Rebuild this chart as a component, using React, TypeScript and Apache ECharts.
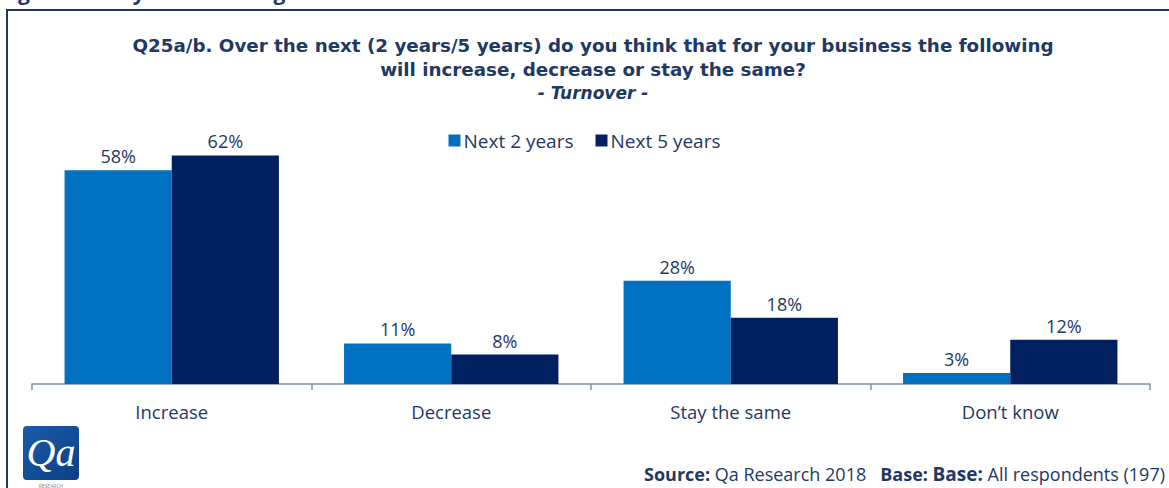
import React, { useEffect, useRef } from "react";
import * as echarts from "echarts";

const categories = ["Increase", "Decrease", "Stay the same", "Don\u2019t know"];
const next2Years = [58, 11, 28, 3];
const next5Years = [62, 8, 18, 12];
const seriesNames = ["Next 2 years", "Next 5 years"];
const titleLines = [
  "Q25a/b. Over the next (2 years/5 years) do you think that for your business the following",
  "will increase, decrease or stay the same?",
];
const subtitle = "- Turnover -";

const NAVY_TEXT = "#1F3864";
const FONT = "'Open Sans', Lato, sans-serif";
const TITLE_FONT = "'DejaVu Sans', 'Open Sans', sans-serif";

export default function App() {
  const ref = useRef<HTMLDivElement>(null);
  useEffect(() => {
    const chart = echarts.init(ref.current!, null, { renderer: "svg" });
    const labelStyle = {
      show: true,
      position: "top" as const,
      distance: 5,
      color: NAVY_TEXT,
      fontSize: 18,
      fontFamily: FONT,
      formatter: "{c}%",
    };
    chart.setOption({
      animation: false,
      backgroundColor: "#ffffff",
      textStyle: { fontFamily: FONT },
      grid: { left: 32, right: 19, top: 89, bottom: 104 },
      legend: {
        data: seriesNames,
        top: 126,
        left: "center",
        itemWidth: 12,
        itemHeight: 12,
        itemGap: 22,
        icon: "rect",
        textStyle: { color: NAVY_TEXT, fontSize: 19, fontFamily: FONT, padding: [0, 0, 0, -2] },
      },
      xAxis: {
        type: "category",
        data: categories,
        axisLine: { lineStyle: { color: "#7F8FA9", width: 1.5 } },
        axisTick: { show: true, length: 6, lineStyle: { color: "#7F8FA9", width: 1.5 } },
        axisLabel: { color: NAVY_TEXT, fontSize: 18.5, fontFamily: FONT, margin: 18 },
      },
      yAxis: {
        type: "value",
        min: 0,
        max: 80,
        show: false,
        splitLine: { show: false },
      },
      series: [
        {
          name: seriesNames[0],
          type: "bar",
          data: next2Years,
          barGap: "0%",
          barCategoryGap: "23.3%",
          itemStyle: { color: "#0070C0" },
          label: labelStyle,
        },
        {
          name: seriesNames[1],
          type: "bar",
          data: next5Years,
          itemStyle: { color: "#002060" },
          label: labelStyle,
        },
      ],
      graphic: [
        {
          type: "text",
          left: 0,
          top: -19,
          style: {
            text: "Figure 11: Key future changes in turnover",
            fill: NAVY_TEXT,
            font: "bold 21px " + FONT,
          },
        },
        {
          type: "rect",
          shape: { x: 7, y: 10, width: 1200, height: 520 },
          style: { fill: "none", stroke: "#1F3864", lineWidth: 2 },
        },
        {
          type: "text",
          x: 593,
          y: 33,
          style: {
            text:
              "{t|" + titleLines[0] + "}\n{t|" + titleLines[1] + "}\n{s|" + subtitle + "}",
            fill: NAVY_TEXT,
            align: "center",
            verticalAlign: "top",
            rich: {
              t: {
                fontWeight: "bold",
                fontSize: 18.3,
                fontFamily: TITLE_FONT,
                lineHeight: 24,
                fill: NAVY_TEXT,
                align: "center",
              },
              s: {
                fontWeight: "bold",
                fontStyle: "italic",
                fontSize: 17,
                fontFamily: TITLE_FONT,
                lineHeight: 24,
                fill: NAVY_TEXT,
                align: "center",
              },
            },
          },
        },
        {
          type: "text",
          right: 4,
          top: 464,
          style: {
            text: "{b|Source:} Qa Research 2018   {b|Base:} {bb|Base:} All respondents (197)",
            fill: NAVY_TEXT,
            font: "18px " + FONT,
            rich: {
              b: { fontWeight: "bold", fontSize: 18, fill: NAVY_TEXT, fontFamily: FONT },
              bb: { fontWeight: "bold", fontSize: 19, fill: NAVY_TEXT, fontFamily: FONT },
            },
          },
        },
        {
          type: "rect",
          shape: { x: 23, y: 426, width: 56, height: 54, r: 4 },
          style: {
            fill: new echarts.graphic.LinearGradient(0, 0, 1, 1, [
              { offset: 0, color: "#1A5DAA" },
              { offset: 1, color: "#0B3F86" },
            ]),
          },
        },
        {
          type: "text",
          x: 51,
          y: 452,
          style: {
            text: "Qa",
            fill: "#ffffff",
            font: "italic 40px 'Liberation Serif', 'DejaVu Serif', serif",
            textAlign: "center",
            textVerticalAlign: "middle",
          },
        },
        {
          type: "text",
          x: 51,
          y: 486,
          style: {
            text: "RESEARCH",
            fill: "#8A8A8A",
            font: "5px " + FONT,
            textAlign: "center",
            textVerticalAlign: "middle",
          },
        },
      ],
    });
    return () => chart.dispose();
  }, []);
  return (
    <div
      ref={ref}
      style={{ position: "fixed", left: 0, top: 0, width: 1169, height: 488 }}
    />
  );
}
